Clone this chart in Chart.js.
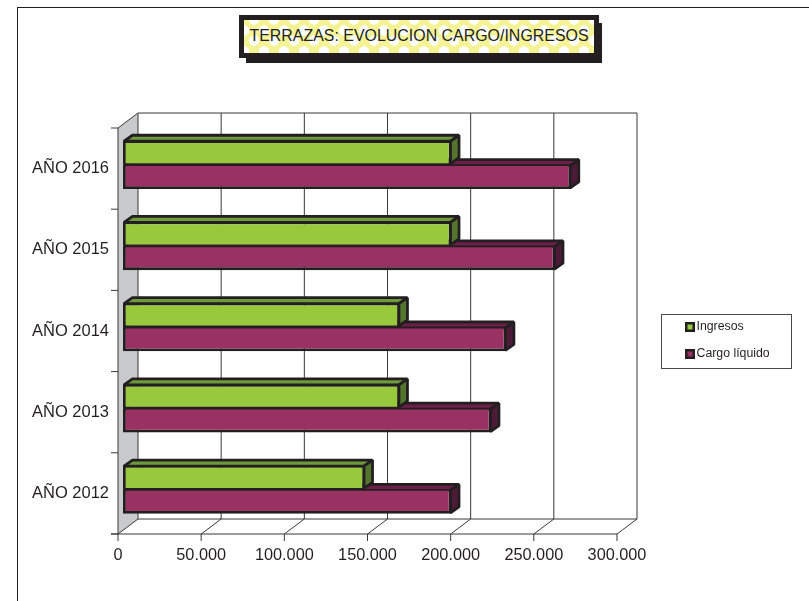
<!DOCTYPE html>
<html lang="en">
<head>
  <title>Terrazas</title>
  <meta charset="utf-8">
  <script src="https://cdn.jsdelivr.net/npm/chart.js"></script>
  <style>
    html, body { margin: 0; padding: 0; background: #fff; overflow: hidden; }
    .page { position: relative; width: 809px; height: 601px; }
    .frame { position: absolute; left: 17px; top: 7px; right: 0; bottom: 0; border-left: 1px solid #231f20; border-top: 1px solid #231f20; }
    canvas { position: absolute; left: 0; top: 0; }
    .title-shadow { position: absolute; left: 246px; top: 23px; width: 356px; height: 40px; background: #231f20; }
    .title {
      position: absolute; left: 239px; top: 15px; width: 350px; height: 33px; border: 5px solid #231f20;
      font: 15.95px "Liberation Sans", Arial, sans-serif; color: #231f20; line-height: 31px; text-align: center; white-space: nowrap;
      background-color: #f6f396;
      background-image: radial-gradient(circle, #fff 5px, transparent 5.4px), radial-gradient(circle, #fff 5px, transparent 5.4px);
      background-size: 20px 21px;
      background-position: 0 -11px, 10px 0;
    }
  </style>
</head>
<body>
<div class="page">
  <div class="frame"></div>
  <canvas id="chart" width="809" height="601"></canvas>
  <div class="title-shadow"></div>
  <div class="title">TERRAZAS: EVOLUCION CARGO/INGRESOS</div>
</div>
<script>
  const years = ['AÑO 2016', 'AÑO 2015', 'AÑO 2014', 'AÑO 2013', 'AÑO 2012'];
  const ingresos = [197500, 197500, 166500, 166500, 145500];
  const cargo = [269500, 260000, 230500, 221500, 197500];
  const xTicks = [0, 50000, 100000, 150000, 200000, 250000, 300000];

  const ink = '#231f20';
  const frontOff = { x: -5, y: 4 };   // front edge of the floor, from the bar plane
  const backOff = { x: 15, y: -11 };  // back wall
  const depth = { x: 8.5, y: -6 };    // bar extrusion

  function line(ctx, x1, y1, x2, y2) {
    ctx.beginPath();
    ctx.moveTo(x1, y1);
    ctx.lineTo(x2, y2);
    ctx.stroke();
  }

  function poly(ctx, pts, fill) {
    ctx.beginPath();
    pts.forEach((p, i) => i ? ctx.lineTo(p[0], p[1]) : ctx.moveTo(p[0], p[1]));
    ctx.closePath();
    ctx.fillStyle = fill;
    ctx.fill();
    ctx.stroke();
  }

  const box3d = {
    id: 'box3d',
    beforeDatasetsDraw(chart) {
      const { ctx, chartArea: { top, bottom }, scales: { x } } = chart;
      const xs = xTicks.map(v => x.getPixelForValue(v));
      const first = xs[0], last = xs[xs.length - 1];
      const fT = top + frontOff.y, fB = bottom + frontOff.y;
      const bT = top + backOff.y, bB = bottom + backOff.y;
      ctx.save();

      // side wall
      ctx.fillStyle = '#c9cacc';
      ctx.beginPath();
      ctx.moveTo(first + frontOff.x, fT);
      ctx.lineTo(first + backOff.x, bT);
      ctx.lineTo(first + backOff.x, bB);
      ctx.lineTo(first + frontOff.x, fB);
      ctx.closePath();
      ctx.fill();

      ctx.strokeStyle = '#3a3839';
      ctx.lineWidth = 1;
      xs.forEach(px => {
        line(ctx, px + backOff.x, bT, px + backOff.x, bB);
        line(ctx, px + frontOff.x, fB, px + backOff.x, bB);
        line(ctx, px + frontOff.x, fB, px + frontOff.x, fB + 7);
      });
      line(ctx, first + backOff.x, bT, last + backOff.x, bT);
      line(ctx, first + backOff.x, bB, last + backOff.x, bB);
      line(ctx, first + frontOff.x - 7, fB, last + frontOff.x, fB);
      line(ctx, first + frontOff.x, fT, first + backOff.x, bT);

      // category axis and its ticks
      line(ctx, first + frontOff.x, fT, first + frontOff.x, fB);
      for (let i = 0; i <= years.length; i++) {
        const y = fT + (fB - fT) * i / years.length;
        line(ctx, first + frontOff.x - 7, y, first + frontOff.x, y);
      }

      // bar tops and ends, cargo first so ingresos sits over it
      ctx.strokeStyle = ink;
      ctx.lineWidth = 2.8;
      ctx.lineJoin = 'bevel';
      [1, 0].forEach(d => {
        const set = chart.data.datasets[d];
        chart.getDatasetMeta(d).data.forEach(bar => {
          const h = bar.height / 2;
          const l = bar.base + 1, r = bar.x - 1;
          const t = bar.y - h + 1, b = bar.y + h - 1;
          poly(ctx, [[l, t], [l + depth.x, t + depth.y], [r + depth.x, t + depth.y], [r, t]], set.topColor);
          poly(ctx, [[r, t], [r + depth.x, t + depth.y], [r + depth.x, b + depth.y], [r, b]], set.sideColor);
        });
      });
      ctx.restore();
    },
    afterDraw(chart) {
      const { ctx } = chart;
      ctx.save();
      ctx.strokeStyle = '#4a4a4a';
      ctx.lineWidth = 1;
      ctx.strokeRect(661.5, 314.5, 130, 54);
      ctx.font = '12.3px "Liberation Sans", Arial, sans-serif';
      ctx.textBaseline = 'middle';
      chart.data.datasets.forEach((set, i) => {
        const y = 322 + i * 27;
        ctx.fillStyle = ink;
        ctx.fillRect(685, y, 10, 10);
        ctx.fillStyle = set.backgroundColor;
        ctx.fillRect(687.5, y + 2.5, 5, 5);
        ctx.fillStyle = ink;
        ctx.fillText(set.label, 696.5, y + 5);
      });
      ctx.restore();
    }
  };

  new Chart(document.getElementById('chart'), {
    type: 'bar',
    data: {
      labels: years,
      datasets: [{
        label: 'Ingresos',
        data: ingresos,
        backgroundColor: '#98c93c',
        topColor: '#6d9a3a',
        sideColor: '#55752f',
        borderColor: ink,
        borderWidth: { top: 2.8, left: 2.8, right: 2.8, bottom: 1.4 },
        borderSkipped: false
      }, {
        label: 'Cargo líquido',
        data: cargo,
        backgroundColor: '#993163',
        topColor: '#6e1f48',
        sideColor: '#4d1a38',
        borderColor: ink,
        borderWidth: { top: 1.4, left: 2.8, right: 2.8, bottom: 2.8 },
        borderSkipped: false
      }]
    },
    options: {
      indexAxis: 'y',
      responsive: false,
      animation: false,
      categoryPercentage: 0.6,
      barPercentage: 1,
      layout: { padding: { top: 124, right: 187, bottom: 0, left: 0 } },
      plugins: {
        legend: { display: false },
        title: { display: false },
        tooltip: { enabled: false }
      },
      scales: {
        x: {
          min: 0,
          max: 300000,
          afterBuildTicks: s => { s.ticks = xTicks.map(v => ({ value: v })); },
          afterFit: s => { s.height = 71; },
          grid: { display: false },
          border: { display: false },
          ticks: {
            color: ink,
            padding: 8,
            labelOffset: -5,
            maxRotation: 0,
            font: { family: '"Liberation Sans", Arial, sans-serif', size: 16.3 },
            callback: v => v === 0 ? '0' : (v / 1000) + '.000'
          }
        },
        y: {
          afterFit: s => { s.width = 123; },
          grid: { display: false },
          border: { display: false },
          ticks: {
            color: ink,
            padding: 6,
            labelOffset: 4,
            font: { family: '"Liberation Sans", Arial, sans-serif', size: 16.5 }
          }
        }
      }
    },
    plugins: [box3d]
  });
</script>
</body>
</html>
